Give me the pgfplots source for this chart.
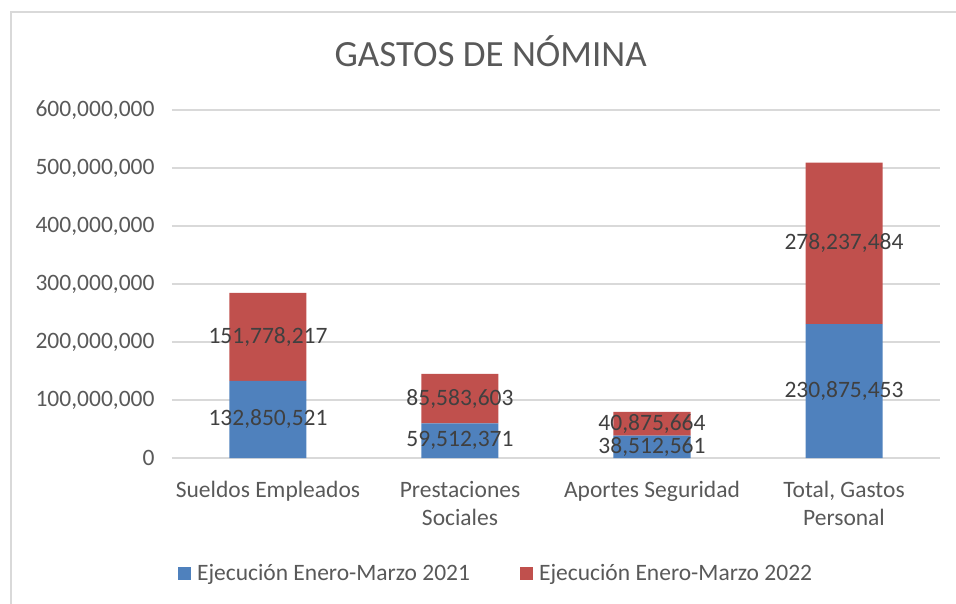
\documentclass[border=0pt]{standalone}
\usepackage{pgfplots}
\pgfplotsset{compat=1.18}
\usepackage{pgfplotstable}
\usepackage{fontspec}
\setmainfont{Carlito}
\definecolor{cblue}{HTML}{4F81BD}
\definecolor{cred}{HTML}{C0504D}
\definecolor{ctext}{HTML}{595959}
\definecolor{cdark}{HTML}{404040}
\definecolor{cgrid}{HTML}{D9D9D9}
\pgfplotstableread{
x a b la lb
0 132850521 151778217 132,850,521 151,778,217
1 59512371 85583603 59,512,371 85,583,603
2 38512561 40875664 38,512,561 40,875,664
3 230875453 278237484 230,875,453 278,237,484
}\datatable
\newcommand{\f}{\fontsize{23.5bp}{28bp}\selectfont}
\begin{document}
\begin{tikzpicture}
\useasboundingbox (-172bp,-146bp) rectangle (784bp,458bp);
\draw[cgrid, line width=1.5bp] (-161bp,-170bp) -- (-161bp,446bp) -- (800bp,446bp);
\begin{axis}[
  at={(0,0)}, anchor=south west,
  scale only axis, width=768bp, height=348bp,
  xmin=-0.5, xmax=3.5, ymin=0, ymax=600000000,
  ybar stacked, bar width=77bp,
  axis line style={draw=none}, major tick length=0pt,
  ymajorgrids, grid style={cgrid, line width=1.3bp},
  ytick={0,100000000,200000000,300000000,400000000,500000000,600000000},
  scaled y ticks=false,
  /pgf/number format/fixed,
  /pgf/number format/1000 sep={,},
  /pgf/number format/assume math mode=true,
  yticklabel style={anchor=east, xshift=-14bp, font=\f, text=ctext},
  xtick={0,1,2,3},
  xticklabels={Sueldos Empleados,{Prestaciones\\Sociales},Aportes Seguridad,{Total, Gastos\\Personal}},
  xticklabel style={anchor=north, align=center, yshift=-20bp, font=\f, text=ctext},
  title={GASTOS DE NÓMINA},
  title style={at={(0.415,1.152)}, anchor=center, font=\fontsize{37bp}{44bp}\selectfont, text=ctext},
  legend style={at={(0.422,-0.33)}, anchor=center, draw=none, font=\f, text=ctext,
    legend columns=2, /tikz/every even column/.append style={column sep=48bp},
    legend cell align=left},
  legend image code/.code={\fill[#1] (0bp,-7bp) rectangle (13bp,6bp); \path (17bp,0bp);},
]
\addplot[fill=cblue, draw=none] table[x=x, y=a] {\datatable};
\addplot[fill=cred, draw=none] table[x=x, y=b] {\datatable};
\legend{Ejecución Enero-Marzo 2021, Ejecución Enero-Marzo 2022}
\end{axis}
\begin{axis}[
  at={(0,0)}, anchor=south west,
  scale only axis, width=768bp, height=348bp,
  xmin=-0.5, xmax=3.5, ymin=0, ymax=600000000,
  hide axis, clip=false,
]
\addplot[draw=none, mark=none, nodes near coords, point meta=explicit symbolic,
  every node near coord/.append style={anchor=center, font=\f, text=cdark, inner sep=0pt}]
  table[x=x, y expr=\thisrow{a}/2, meta=la] {\datatable};
\addplot[draw=none, mark=none, nodes near coords, point meta=explicit symbolic,
  every node near coord/.append style={anchor=center, font=\f, text=cdark, inner sep=0pt}]
  table[x=x, y expr=\thisrow{a}+\thisrow{b}/2, meta=lb] {\datatable};
\end{axis}
\end{tikzpicture}
\end{document}
